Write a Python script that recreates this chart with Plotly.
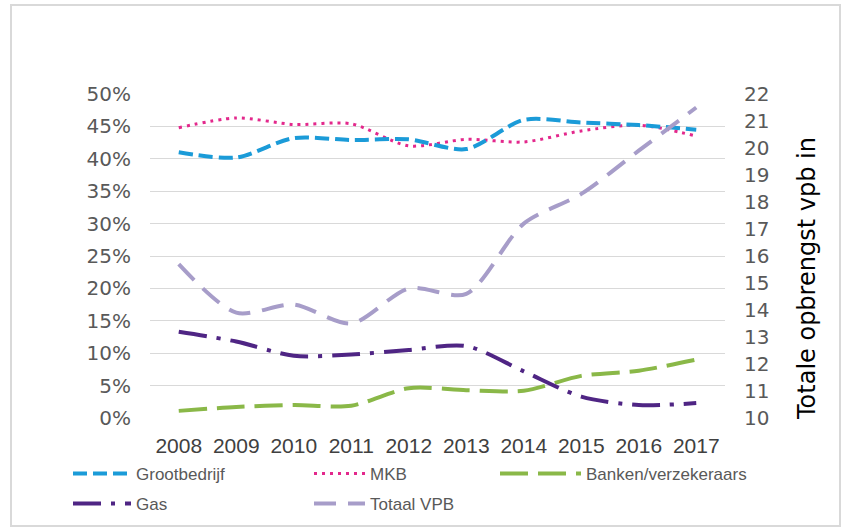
import plotly.graph_objects as go

years = ["2008", "2009", "2010", "2011", "2012", "2013", "2014", "2015", "2016", "2017"]
grootbedrijf = [0.410, 0.402, 0.432, 0.429, 0.430, 0.415, 0.460, 0.456, 0.452, 0.445]
mkb = [0.448, 0.463, 0.453, 0.454, 0.420, 0.430, 0.426, 0.443, 0.452, 0.435]
banken = [0.011, 0.017, 0.020, 0.019, 0.046, 0.043, 0.042, 0.065, 0.073, 0.090]
gas = [0.133, 0.118, 0.096, 0.098, 0.105, 0.111, 0.072, 0.033, 0.020, 0.023]
totaal_vpb = [15.7, 13.9, 14.2, 13.5, 14.8, 14.6, 17.2, 18.3, 19.9, 21.5]

left_ticks = [0, 0.05, 0.10, 0.15, 0.20, 0.25, 0.30, 0.35, 0.40, 0.45, 0.50]
right_ticks = list(range(10, 23))

fig = go.Figure()

legend_font = dict(family="Liberation Sans", size=17, color="#595959")

def add(name, y, color, dash, width, legend, yaxis="y"):
    fig.add_trace(go.Scatter(
        x=years, y=y, name=name, mode="lines", yaxis=yaxis,
        line=dict(color=color, width=width, dash=dash, shape="spline", smoothing=0.8),
        legend=legend, hoverinfo="skip"))

add("Totaal VPB", totaal_vpb, "#a79dc9", "22px,12px", 4, "legend5", "y2")
add("Banken/verzekeraars", banken, "#8ab848", "28px,10px", 4, "legend3")
add("Gas", gas, "#4f2584", "28px,10px,4px,10px", 4, "legend4")
add("MKB", mkb, "#e3288c", "3px,5px", 3, "legend2")
add("Grootbedrijf", grootbedrijf, "#1b9bd8", "14px,6px", 4, "legend")

def leg(xpx, ypx, w):
    return dict(x=xpx / 843, y=1 - ypx / 527, xref="container", yref="container",
                xanchor="left", yanchor="middle", font=legend_font,
                bgcolor="rgba(0,0,0,0)", itemwidth=w, tracegroupgap=0)

fig.update_layout(
    width=843, height=527,
    margin=dict(l=150, r=118, t=94, b=109, autoexpand=False),
    paper_bgcolor="white", plot_bgcolor="white",
    showlegend=True,
    legend=leg(68, 474, 58),
    legend2=leg(309, 474, 51),
    legend3=leg(495, 474, 81),
    legend4=leg(68, 504, 58),
    legend5=leg(309, 504, 51),
    xaxis=dict(type="category", categoryorder="array", categoryarray=years,
               range=[-0.5, 9.5],
               showgrid=False, showline=False, zeroline=False,
               tickfont=dict(family="Liberation Sans", size=21, color="#404040"),
               ticklabelstandoff=13),
    yaxis=dict(range=[0, 0.5], tickvals=left_ticks, tickformat=".0%",
               showgrid=True, gridcolor="#d9d9d9", gridwidth=1, zeroline=False,
               showline=False,
               tickfont=dict(family="DejaVu Sans", size=20, color="#595959"),
               ticklabelstandoff=18),
    yaxis2=dict(range=[10, 22], tickvals=right_ticks, overlaying="y", side="right",
                showgrid=False, zeroline=False, showline=False,
                tickfont=dict(family="DejaVu Sans", size=20, color="#595959"),
                ticklabelstandoff=18),
)

fig.add_annotation(text="Totale opbrengst vpb in", textangle=-90,
                   x=(807 - 150) / 575, y=(418 - 279) / 324, xref="paper", yref="paper",
                   xanchor="center", yanchor="middle",
                   showarrow=False, font=dict(family="DejaVu Sans", size=24, color="#000000"))

fig.add_shape(type="rect", xref="paper", yref="paper",
              x0=(11 - 150) / 575, x1=(840 - 150) / 575,
              y0=(418 - 526) / 324, y1=(418 - 5) / 324,
              line=dict(color="#d9d9d9", width=2), fillcolor="rgba(0,0,0,0)", layer="below")

fig.write_html("out.html", config={"displayModeBar": False},
               post_script="document.body.style.margin='0';")
